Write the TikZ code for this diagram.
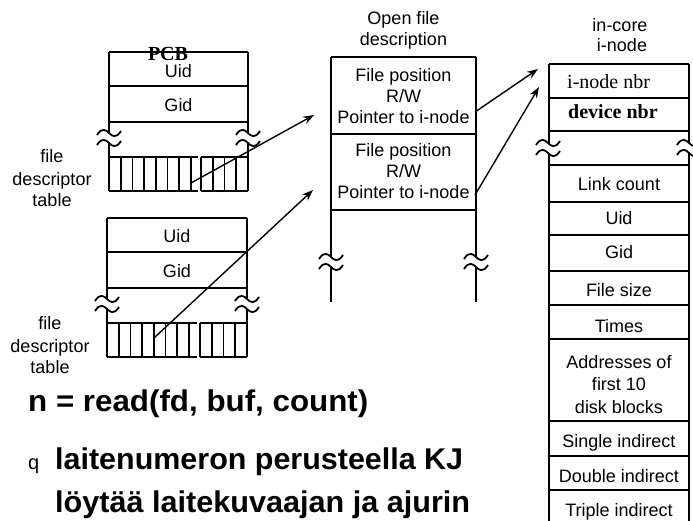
\documentclass[tikz,border=0pt]{standalone}
\usepackage{fontspec}
\setmainfont{Liberation Sans}
\newfontfamily\serf{Liberation Serif}
\usetikzlibrary{arrows.meta}
\tikzset{
  box/.style={line width=1.7pt},
  lbl/.style={font=\fontsize{18}{21}\selectfont, inner sep=0pt, anchor=base},
  serlbl/.style={font=\serf\fontsize{20}{24}\selectfont, inner sep=0pt, anchor=base},
  bigtxt/.style={font=\bfseries\fontsize{30}{36}\selectfont, inner sep=0pt, anchor=base west},
  ptr/.style={line width=1.4pt, -{Stealth[length=11pt,width=8pt]}},
  brk/.pic={
    \draw[line width=1.8pt] (-12,-3) .. controls (-7,-11) and (-3,-8) .. (0,-5) .. controls (3,-2) and (7,1) .. (12,-7);
    \draw[line width=1.8pt] (-12,7) .. controls (-7,-1) and (-3,2) .. (0,5) .. controls (3,8) and (7,11) .. (12,3);
  }
}
\begin{document}
\begin{tikzpicture}[x=1pt,y=-1pt]
\useasboundingbox (0,0) rectangle (693,521);

% ---------- PCB 1 ----------
\draw[box] (109,52) -- (248,52) (109,86) -- (248,86) (109,122) -- (248,122);
\draw[box] (109,52) -- (109,133) (109,143) -- (109,191);
\draw[box] (248,52) -- (248,133) (248,143) -- (248,191);
\draw[box] (109,157) -- (198,157) (109,191) -- (198,191) (201,157) -- (248,157) (201,191) -- (248,191);
\foreach \i in {1,...,7} \draw[box] ({109+\i*11.7},157) -- ++(0,34);
\foreach \i in {0,...,3} \draw[box] ({201+\i*11.75},157) -- ++(0,34);
\pic at (109,138) {brk};
\pic at (248,138) {brk};
\node[serlbl, font=\serf\bfseries\fontsize{20}{24}\selectfont] (pcb) at (168,61) {PCB};
\node[lbl] (uid1) at (178.5,78) {Uid};
\node[lbl] (gid1) at (178.5,112) {Gid};
\node[lbl] (fdt1a) at (52,163) {file};
\node[lbl] (fdt1b) at (52,186) {descriptor};
\node[lbl] (fdt1c) at (52,207) {table};

% ---------- PCB 2 ----------
\draw[box] (107,218) -- (247,218) (107,252) -- (247,252) (107,288) -- (247,288);
\draw[box] (107,218) -- (107,299) (107,309) -- (107,357);
\draw[box] (247,218) -- (247,299) (247,309) -- (247,357);
\draw[box] (107,323) -- (197,323) (107,357) -- (197,357) (200,323) -- (247,323) (200,357) -- (247,357);
\foreach \i in {1,...,7} \draw[box] ({107+\i*11.7},323) -- ++(0,34);
\foreach \i in {0,...,3} \draw[box] ({200+\i*11.75},323) -- ++(0,34);
\pic at (107,304) {brk};
\pic at (247,304) {brk};
\node[lbl] (uid2) at (177,243) {Uid};
\node[lbl] (gid2) at (177,278) {Gid};
\node[lbl] (fdt2a) at (50,329) {file};
\node[lbl] (fdt2b) at (50,352) {descriptor};
\node[lbl] (fdt2c) at (50,373) {table};

% ---------- Open file description ----------
\node[lbl] (ofdt1) at (403.5,25) {Open file};
\node[lbl] (ofdt2) at (403.5,46) {description};
\draw[box] (331,57) -- (476,57) (331,134) -- (476,134) (331,210) -- (476,210);
\draw[box] (331,57) -- (331,257) (331,267) -- (331,302);
\draw[box] (476,57) -- (476,257) (476,267) -- (476,302);
\pic at (331,262) {brk};
\pic at (476,262) {brk};
\node[lbl] (fp1) at (403.5,82) {File position};
\node[lbl] (rw1) at (403.5,103) {R/W};
\node[lbl] (pi1) at (403.5,124) {Pointer to i-node};
\node[lbl] (fp2) at (403.5,157) {File position};
\node[lbl] (rw2) at (403.5,178) {R/W};
\node[lbl] (pi2) at (403.5,199) {Pointer to i-node};

% ---------- in-core i-node ----------
\node[lbl] (ict1) at (620,32) {in-core};
\node[lbl] (ict2) at (622,52) {i-node};
\draw[box] (549,64) -- (549,143) (549,153) -- (549,525);
\draw[box] (689,64) -- (689,143) (689,153) -- (689,525);
\foreach \y in {64,98,131,165,202,235,271,305,339,421,456,490}
  \draw[box] (549,\y) -- (689,\y);
\pic at (548,148) {brk};
\pic at (689,148) {brk};
\node[serlbl, anchor=base west] (inbr) at (567,89) {i-node nbr};
\node[serlbl, anchor=base west, font=\serf\bfseries\fontsize{20}{24}\selectfont] (dnbr) at (568,119) {device nbr};
\node[lbl] (lc) at (619,191) {Link count};
\node[lbl] (uid3) at (619,225) {Uid};
\node[lbl] (gid3) at (619,259) {Gid};
\node[lbl] (fs) at (619,297) {File size};
\node[lbl] (tm) at (619,332) {Times};
\node[lbl] (ad1) at (619,368) {Addresses of};
\node[lbl] (ad2) at (619,390) {first 10};
\node[lbl] (ad3) at (619,413) {disk blocks};
\node[lbl] (si) at (619,447) {Single indirect};
\node[lbl] (di) at (619,482) {Double indirect};
\node[lbl] (ti) at (619,516) {Triple indirect};

% ---------- pointers ----------
\coordinate (fd1) at (191,183);
\coordinate (ofd1) at (314,115);
\coordinate (fd2) at (154,338);
\coordinate (ofd2) at (313,190);
\coordinate (pt1) at (475,112);
\coordinate (in1) at (538,69);
\coordinate (pt2) at (475,195);
\coordinate (in2) at (539,87);
\draw[ptr] (fd1) -- (ofd1);
\draw[ptr] (fd2) -- (ofd2);
\draw[ptr] (pt1) -- (in1);
\draw[ptr] (pt2) -- (in2);

% ---------- bottom text ----------
\node[bigtxt] (rd) at (28,411) {\resizebox{340pt}{\height}{n = read(fd, buf, count)}};
\node[lbl, anchor=base west, font=\fontsize{20}{24}\selectfont] (bul) at (28,469) {q};
\node[bigtxt] (l2) at (55,469) {\resizebox{408pt}{\height}{laitenumeron perusteella KJ}};
\node[bigtxt] (l3) at (55,512) {\resizebox{415pt}{\height}{löytää laitekuvaajan ja ajurin}};
\end{tikzpicture}
\end{document}
